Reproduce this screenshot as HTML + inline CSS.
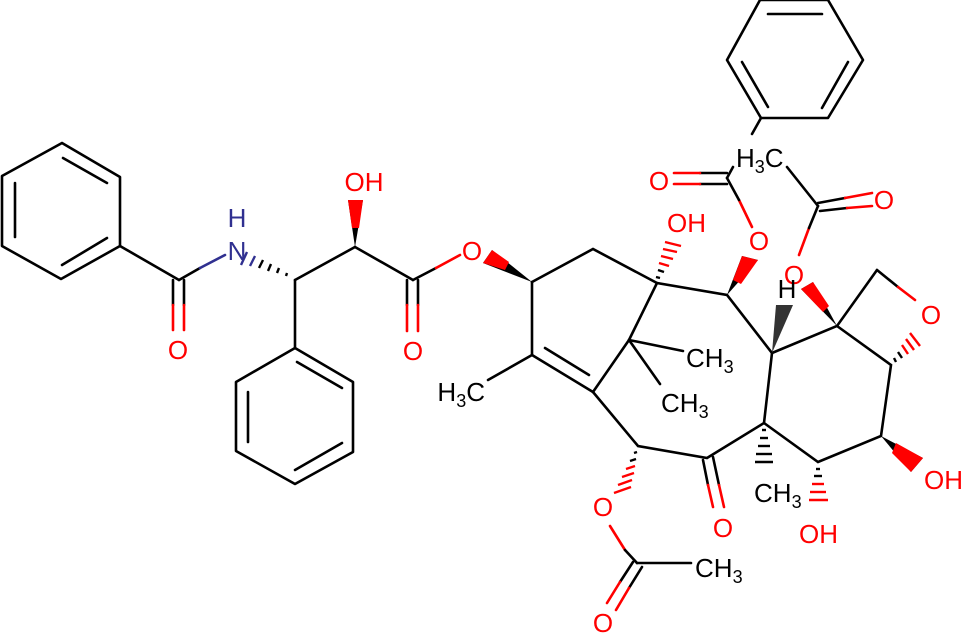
<!DOCTYPE html>
<html><head><meta charset="utf-8"><style>
html,body{margin:0;padding:0;background:#fff;}
svg{display:block;}
text{font-family:"Liberation Sans",sans-serif;font-size:26px;}
.r{fill:#ff0000}.k{fill:#000}.b{fill:#303090}
</style></head><body>
<svg width="962" height="633" viewBox="0 0 962 633" xmlns="http://www.w3.org/2000/svg">
<g stroke="#000" stroke-width="2.6" fill="none" stroke-linecap="round">
<polygon points="62,143 120,177 120,246 61,279 2,246 2,176" stroke-linejoin="round"/>
<line x1="63" y1="158" x2="107" y2="183"/>
<line x1="15" y1="183" x2="15" y2="237"/>
<line x1="62" y1="265" x2="107" y2="238"/>
<line x1="120" y1="246" x2="179" y2="280"/>
<line x1="173" y1="280" x2="173" y2="305"/><line x1="184" y1="280" x2="184" y2="305"/>
<line x1="173" y1="305" x2="173" y2="330" stroke="#f00"/><line x1="184" y1="305" x2="184" y2="330" stroke="#f00"/>
<line x1="179" y1="280" x2="200" y2="268"/>
<line x1="200" y1="268" x2="225" y2="255" stroke="#303090"/>
<line x1="295" y1="280" x2="355" y2="247"/>
<line x1="355" y1="247" x2="413" y2="280"/>
<line x1="407" y1="280" x2="407" y2="305"/><line x1="418" y1="280" x2="418" y2="305"/>
<line x1="407" y1="305" x2="407" y2="331" stroke="#f00"/><line x1="418" y1="305" x2="418" y2="331" stroke="#f00"/>
<line x1="413" y1="280" x2="436" y2="268"/>
<line x1="436" y1="268" x2="460" y2="255" stroke="#f00"/>
<line x1="295" y1="280" x2="295" y2="348"/>
<polygon points="295,348 353,382 353,452 295,484 236,451 236,382" stroke-linejoin="round"/>
<line x1="297" y1="362" x2="342" y2="388"/>
<line x1="342" y1="443" x2="295" y2="470"/>
<line x1="248" y1="392" x2="248" y2="442"/>
<polyline points="532,282 593,249 657,283 727,295 772,353 837,326 877,270"/>
<line x1="532" y1="282" x2="532" y2="355"/>
<line x1="532" y1="355" x2="593" y2="392"/>
<line x1="545" y1="348" x2="589" y2="375"/>
<line x1="532" y1="355" x2="488" y2="380"/>
<line x1="593" y1="392" x2="629" y2="340"/>
<line x1="629" y1="340" x2="657" y2="283"/>
<line x1="629" y1="340" x2="683" y2="351"/>
<line x1="629" y1="340" x2="660" y2="384"/>
<polyline points="593,392 638,446 707,458 764,423 772,353"/>
<polyline points="764,423 818,462 881,436 891,365 837,326"/>
<line x1="877" y1="270" x2="898" y2="287"/>
<line x1="898" y1="287" x2="915" y2="300" stroke="#f00"/>
<line x1="703" y1="460" x2="708" y2="485"/><line x1="713" y1="457" x2="719" y2="485"/>
<line x1="708" y1="485" x2="713" y2="507" stroke="#f00"/><line x1="719" y1="485" x2="724" y2="507" stroke="#f00"/>
<line x1="610" y1="526" x2="625" y2="550" stroke="#f00"/>
<line x1="625" y1="550" x2="637" y2="563"/>
<line x1="637" y1="563" x2="691" y2="563"/>
<line x1="633" y1="562" x2="620" y2="582"/><line x1="642" y1="567" x2="629" y2="588"/>
<line x1="620" y1="582" x2="607" y2="603" stroke="#f00"/><line x1="629" y1="588" x2="616" y2="610" stroke="#f00"/>
<line x1="752" y1="227" x2="739" y2="200" stroke="#f00"/>
<line x1="739" y1="200" x2="727" y2="178"/>
<line x1="727" y1="173" x2="700" y2="173"/><line x1="727" y1="184" x2="700" y2="184"/>
<line x1="700" y1="173" x2="674" y2="173" stroke="#f00"/><line x1="700" y1="184" x2="674" y2="184" stroke="#f00"/>
<line x1="727" y1="178" x2="733" y2="167"/>
<line x1="752" y1="134" x2="761" y2="118"/>
<polygon points="760,0 828,0 863,60 828,118 761,118 727,60" stroke-linejoin="round"/>
<line x1="768" y1="14" x2="822" y2="14"/>
<line x1="848" y1="62" x2="822" y2="108"/>
<line x1="742" y1="62" x2="768" y2="107"/>
<line x1="799" y1="255" x2="809" y2="228" stroke="#f00"/>
<line x1="809" y1="228" x2="818" y2="206"/>
<line x1="818" y1="206" x2="787" y2="167"/>
<line x1="818" y1="203" x2="845" y2="198"/><line x1="820" y1="211" x2="847" y2="208"/>
<line x1="845" y1="198" x2="872" y2="193" stroke="#f00"/><line x1="847" y1="208" x2="872" y2="206" stroke="#f00"/>
</g>
<polygon points="355,247 348,200 363,200" fill="#000"/>
<polygon points="352,228 348,200 363,200 359,228" fill="#f00"/>
<polygon points="532,282 483,263 492,250" fill="#000"/>
<polygon points="505,270 483,263 492,250 509,262" fill="#f00"/>
<polygon points="727,295 742,256 758,260" fill="#000"/>
<polygon points="733,280 742,256 758,260 741,284" fill="#f00"/>
<polygon points="772,353 776,305 793,305" fill="#333"/>
<polygon points="837,326 801,289 813,282" fill="#000"/>
<polygon points="823,312 801,289 813,282 829,306" fill="#f00"/>
<polygon points="881,436 923,458 911,472" fill="#000"/>
<polygon points="896,443 923,458 911,472 892,453" fill="#f00"/>
<g stroke-width="2.4">
<g stroke="#303090"><line x1="247" y1="252" x2="241" y2="265"/><line x1="255" y1="256" x2="250" y2="266"/></g>
<g stroke="#000"><line x1="263" y1="260" x2="259" y2="268"/><line x1="271" y1="264" x2="268" y2="271"/><line x1="279" y1="268" x2="277" y2="273"/><line x1="287" y1="273" x2="286" y2="276"/></g>
<g stroke="#000"><line x1="656" y1="277" x2="660" y2="278"/><line x1="658" y1="270" x2="664" y2="272"/></g>
<g stroke="#f00"><line x1="659" y1="263" x2="669" y2="266"/><line x1="661" y1="256" x2="673" y2="259"/><line x1="663" y1="249" x2="677" y2="252"/><line x1="665" y1="242" x2="681" y2="246"/></g>
<g stroke="#000"><line x1="637" y1="452" x2="634" y2="453"/><line x1="636" y1="459" x2="630" y2="461"/></g>
<g stroke="#f00"><line x1="635" y1="466" x2="626" y2="469"/><line x1="634" y1="473" x2="622" y2="477"/><line x1="632" y1="480" x2="618" y2="485"/><line x1="631" y1="487" x2="614" y2="493"/></g>
<g stroke="#000"><line x1="762" y1="430" x2="766" y2="430"/><line x1="760" y1="438" x2="768" y2="438"/><line x1="758" y1="446" x2="770" y2="446"/><line x1="756" y1="454" x2="772" y2="454"/><line x1="755" y1="462" x2="773" y2="462"/></g>
<g stroke="#000"><line x1="816" y1="469" x2="820" y2="469"/><line x1="814" y1="476" x2="822" y2="476"/></g>
<g stroke="#f00"><line x1="812" y1="484" x2="824" y2="484"/><line x1="810" y1="492" x2="826" y2="492"/><line x1="809" y1="500" x2="828" y2="500"/></g>
<g stroke="#000"><line x1="896" y1="362" x2="894" y2="358"/><line x1="902" y1="358" x2="898" y2="352"/></g>
<g stroke="#f00"><line x1="908" y1="354" x2="902" y2="345"/><line x1="914" y1="350" x2="906" y2="339"/><line x1="920" y1="346" x2="910" y2="333"/></g>
</g>
<text x="237" y="227" text-anchor="middle" class="b">H</text>
<text x="237" y="260" text-anchor="middle" class="b">N</text>
<text x="178" y="359" text-anchor="middle" class="r">O</text>
<text x="364" y="191" text-anchor="middle" class="r">OH</text>
<text x="413" y="360" text-anchor="middle" class="r">O</text>
<text x="472" y="260" text-anchor="middle" class="r">O</text>
<text x="485" y="401" text-anchor="end" class="k">H<tspan font-size="18" dy="6">3</tspan><tspan dy="-6">C</tspan></text>
<text x="686" y="367" class="k">CH<tspan font-size="18" dy="6">3</tspan></text>
<text x="661" y="412" class="k">CH<tspan font-size="18" dy="6">3</tspan></text>
<text x="667" y="232" class="r">OH</text>
<text x="759" y="250" text-anchor="middle" class="r">O</text>
<text x="659" y="190" text-anchor="middle" class="r">O</text>
<text x="736" y="167" class="k">H<tspan font-size="18" dy="6">3</tspan><tspan dy="-6">C</tspan></text>
<text x="884" y="209" text-anchor="middle" class="r">O</text>
<text x="794" y="284" text-anchor="middle" class="r">O</text>
<text x="787" y="298" text-anchor="middle" class="k">H</text>
<text x="931" y="324" text-anchor="middle" class="r">O</text>
<text x="924" y="489" class="r">OH</text>
<text x="799" y="543" class="r">OH</text>
<text x="754" y="502" class="k">CH<tspan font-size="18" dy="6">3</tspan></text>
<text x="723" y="537" text-anchor="middle" class="r">O</text>
<text x="603" y="516" text-anchor="middle" class="r">O</text>
<text x="695" y="577" class="k">CH<tspan font-size="18" dy="6">3</tspan></text>
<text x="603" y="632" text-anchor="middle" class="r">O</text>
</svg>
</body></html>
